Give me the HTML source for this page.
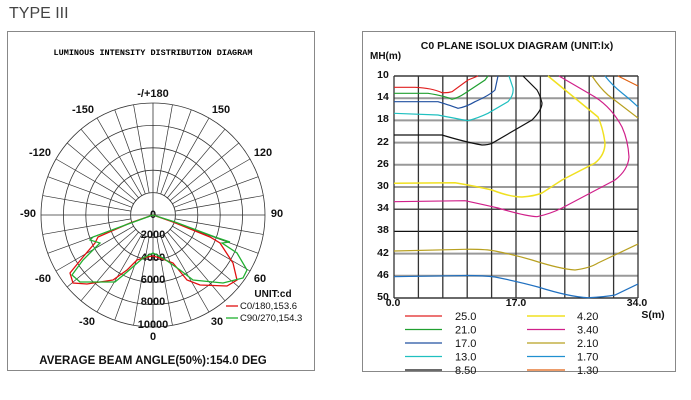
<!DOCTYPE html>
<html><head><meta charset="utf-8"><style>
html,body{margin:0;padding:0;background:#fff;}
svg{display:block;}
</style></head><body>
<svg width="691" height="400" viewBox="0 0 691 400" xmlns="http://www.w3.org/2000/svg">
<text x="9" y="18" font-family="Liberation Sans, sans-serif" font-size="16" fill="#444">TYPE III</text>
<rect x="7.5" y="31.5" width="307" height="339" fill="none" stroke="#888" stroke-width="1"/>
<rect x="362.5" y="31.5" width="313" height="340" fill="none" stroke="#888" stroke-width="1"/>

<text x="153" y="55" text-anchor="middle" font-family="Liberation Mono, monospace" font-weight="bold" font-size="8.5" fill="#000">LUMINOUS INTENSITY DISTRIBUTION DIAGRAM</text>

<g stroke="#333" stroke-width="0.8" fill="none">
<circle cx="153" cy="215" r="22.4"/>
<circle cx="153" cy="215" r="44.8"/>
<circle cx="153" cy="215" r="67.2"/>
<circle cx="153" cy="215" r="89.6"/>
<circle cx="153" cy="215" r="112"/>
<line x1="41" y1="215" x2="265" y2="215"/>
<line x1="153" y1="103" x2="153" y2="327"/>
</g>
<g stroke="#333" stroke-width="0.7" id="spokes">
<path d="M153,215 m22.06,3.89 l88.24,15.56 M153,215 m21.05,7.66 l84.19,30.64 M153,215 m19.40,11.20 l77.60,44.80 M153,215 m17.16,14.40 l68.64,57.59 M153,215 m14.40,17.16 l57.59,68.64 M153,215 m11.20,19.40 l44.80,77.60 M153,215 m7.66,21.05 l30.64,84.19 M153,215 m3.89,22.06 l15.56,88.24
M153,215 m-22.06,3.89 l-88.24,15.56 M153,215 m-21.05,7.66 l-84.19,30.64 M153,215 m-19.40,11.20 l-77.60,44.80 M153,215 m-17.16,14.40 l-68.64,57.59 M153,215 m-14.40,17.16 l-57.59,68.64 M153,215 m-11.20,19.40 l-44.80,77.60 M153,215 m-7.66,21.05 l-30.64,84.19 M153,215 m-3.89,22.06 l-15.56,88.24
M153,215 m22.06,-3.89 l88.24,-15.56 M153,215 m21.05,-7.66 l84.19,-30.64 M153,215 m19.40,-11.20 l77.60,-44.80 M153,215 m17.16,-14.40 l68.64,-57.59 M153,215 m14.40,-17.16 l57.59,-68.64 M153,215 m11.20,-19.40 l44.80,-77.60 M153,215 m7.66,-21.05 l30.64,-84.19 M153,215 m3.89,-22.06 l15.56,-88.24
M153,215 m-22.06,-3.89 l-88.24,-15.56 M153,215 m-21.05,-7.66 l-84.19,-30.64 M153,215 m-19.40,-11.20 l-77.60,-44.80 M153,215 m-17.16,-14.40 l-68.64,-57.59 M153,215 m-14.40,-17.16 l-57.59,-68.64 M153,215 m-11.20,-19.40 l-44.80,-77.60 M153,215 m-7.66,-21.05 l-30.64,-84.19 M153,215 m-3.89,-22.06 l-15.56,-88.24"/>
</g>
<g font-family="Liberation Sans, sans-serif" font-weight="bold" font-size="11" fill="#111" text-anchor="middle">
<text x="153" y="97">-/+180</text>
<text x="83" y="113">-150</text>
<text x="221" y="113">150</text>
<text x="40" y="156">-120</text>
<text x="263" y="156">120</text>
<text x="28" y="217">-90</text>
<text x="277" y="217">90</text>
<text x="43" y="282">-60</text>
<text x="260" y="282">60</text>
<text x="87" y="325">-30</text>
<text x="217" y="325">30</text>
<text x="153" y="340">0</text>
<text x="153" y="218">0</text>
<text x="153" y="238">2000</text>
<text x="153" y="261">4000</text>
<text x="153" y="283">6000</text>
<text x="153" y="305">8000</text>
<text x="153" y="328">10000</text>
<text x="273" y="297" font-size="10">UNIT:cd</text>
</g>
<path d="M153,215 L130,223 L98,237 L95,243 L83,257 L70,273 L73,283 L87,284 L113,280 L127,270 L137,260 L147,257 L153,256 L160,258 L173,263 L187,280 L200,285 L227,286 L237,280 L233,263 L220,243 L210,237 L173,222 Z" fill="none" stroke="#e01010" stroke-width="1.3"/>
<path d="M153,215 L120,227 L93,237 L90,240 L100,243 L83,260 L72,275 L80,282 L115,282 L127,272 L143,258 L153,253 L163,258 L180,270 L193,280 L223,283 L243,278 L247,270 L237,253 L222,243 L230,242 L215,237 L175,222 Z" fill="none" stroke="#20b030" stroke-width="1.3"/>
<line x1="226" y1="306" x2="238" y2="306" stroke="#e01010" stroke-width="1.3"/>
<line x1="226" y1="318" x2="238" y2="318" stroke="#20b030" stroke-width="1.3"/>
<g font-family="Liberation Sans, sans-serif" font-size="9.5" fill="#111">
<text x="240" y="309">C0/180,153.6</text>
<text x="240" y="321">C90/270,154.3</text>
</g>
<text x="153" y="364" text-anchor="middle" font-family="Liberation Sans, sans-serif" font-weight="bold" font-size="11.5" fill="#111">AVERAGE BEAM ANGLE(50%):154.0 DEG</text>

<!-- isolux -->
<text x="517" y="49" text-anchor="middle" font-family="Liberation Sans, sans-serif" font-weight="bold" font-size="10.5" fill="#111">C0 PLANE ISOLUX DIAGRAM (UNIT:lx)</text>
<text x="370" y="59" font-family="Liberation Sans, sans-serif" font-weight="bold" font-size="10" fill="#111">MH(m)</text>
<g stroke="#999" stroke-width="2">
<line x1="394" y1="98.2" x2="638" y2="98.2"/>
<line x1="394" y1="120.4" x2="638" y2="120.4"/>
<line x1="394" y1="142.6" x2="638" y2="142.6"/>
<line x1="394" y1="164.8" x2="638" y2="164.8"/>
<line x1="394" y1="187" x2="638" y2="187"/>
<line x1="394" y1="253.6" x2="638" y2="253.6"/>
<line x1="394" y1="275.8" x2="638" y2="275.8"/>
</g>
<g stroke="#111" stroke-width="1.2">
<line x1="394" y1="209.2" x2="638" y2="209.2"/>
<line x1="394" y1="231.4" x2="638" y2="231.4"/>
<line x1="394" y1="76" x2="638" y2="76"/>
<line x1="394" y1="298" x2="638" y2="298"/>
</g>
<g stroke="#333" stroke-width="1.3">
<line x1="394" y1="76" x2="394" y2="298"/><line x1="418.4" y1="76" x2="418.4" y2="298"/><line x1="442.8" y1="76" x2="442.8" y2="298"/><line x1="467.2" y1="76" x2="467.2" y2="298"/><line x1="491.6" y1="76" x2="491.6" y2="298"/><line x1="516" y1="76" x2="516" y2="298"/><line x1="540.4" y1="76" x2="540.4" y2="298"/><line x1="564.8" y1="76" x2="564.8" y2="298"/><line x1="589.2" y1="76" x2="589.2" y2="298"/><line x1="613.6" y1="76" x2="613.6" y2="298"/><line x1="638" y1="76" x2="638" y2="298"/>
</g>
<g font-family="Liberation Sans, sans-serif" font-weight="bold" font-size="10.5" fill="#111" text-anchor="middle">
<text x="383" y="78">10</text><text x="383" y="100">14</text><text x="383" y="122">18</text><text x="383" y="145">22</text><text x="383" y="167">26</text><text x="383" y="189">30</text><text x="383" y="211">34</text><text x="383" y="233">38</text><text x="383" y="256">42</text><text x="383" y="278">46</text><text x="383" y="300">50</text>
<text x="393" y="306">0.0</text><text x="516" y="306">17.0</text><text x="637" y="306">34.0</text>
<text x="653" y="318">S(m)</text>
</g>
<g fill="none" stroke-width="1.2">
<path stroke="#e02020" d="M394,87.3 L415,87.3 Q432,88 442,92.7 Q448,93 452,91.7 L468,80 L478,76"/>
<path stroke="#20a030" d="M394,93.3 L428,93.3 Q445,96 452,99.3 Q458,98 465,93.3 L485,80 L488,76"/>
<path stroke="#2050a0" d="M394,101.7 L438,101.7 Q452,106 458,108.3 Q466,107 475,101.7 Q490,95 495,90 L498,76"/>
<path stroke="#20c0c0" d="M394,113.3 L438,115 Q458,119 468,120.7 Q478,118 488,113.3 L508,101.7 Q514,95 513,88 L509,76"/>
<path stroke="#111" d="M394,135 L442,135 Q465,142 482,145 Q488,145 492,143.3 L532,120 Q542,110 542,103 Q540,95 537,90 L523,76"/>
<path stroke="#f0e020" stroke-width="1.5" d="M394,183.3 L455,182.7 Q475,186 492,190 Q510,197 522,197 Q535,196 542,193 L562,180 L595,163 Q605,155 605,143 Q603,128 598,117 L548,76"/>
<path stroke="#d0208a" d="M394,201.7 L465,200.7 Q485,205 498,208 Q525,216 537,216.7 Q550,214 562,208 L615,180 Q628,170 629,157 Q628,140 622,127 Q612,108 595,97 L559,76"/>
<path stroke="#b8a020" d="M394,251 L465,249.3 Q485,249 495,251 Q515,255 532,260 Q560,269 575,270 Q590,268 598,263 L638,244"/>
<path stroke="#b8a020" d="M592,76 Q600,88 608,95 L638,118"/>
<path stroke="#2070c0" d="M394,276.7 L455,275.7 Q480,275 495,277 Q520,282 538,287 Q570,297 588,297.7 Q605,297 615,295 L638,284"/>
<path stroke="#2090d0" d="M605,76 Q612,85 622,93 Q632,101 638,107"/>
<path stroke="#e06010" d="M618,76 L638,86"/>
</g>
<g stroke-width="1.2">
<line x1="405" y1="316" x2="442" y2="316" stroke="#e02020"/>
<line x1="405" y1="329.5" x2="442" y2="329.5" stroke="#20a030"/>
<line x1="405" y1="343" x2="442" y2="343" stroke="#2050a0"/>
<line x1="405" y1="356.5" x2="442" y2="356.5" stroke="#20c0c0"/>
<line x1="405" y1="370" x2="442" y2="370" stroke="#111"/>
<line x1="527" y1="316" x2="565" y2="316" stroke="#f0e020" stroke-width="1.5"/>
<line x1="527" y1="329.5" x2="565" y2="329.5" stroke="#d0208a"/>
<line x1="527" y1="343" x2="565" y2="343" stroke="#b8a020"/>
<line x1="527" y1="356.5" x2="565" y2="356.5" stroke="#2090d0"/>
<line x1="527" y1="370" x2="565" y2="370" stroke="#e06010"/>
</g>
<g font-family="Liberation Sans, sans-serif" font-size="11" fill="#111">
<text x="455" y="320">25.0</text><text x="455" y="333.5">21.0</text><text x="455" y="347">17.0</text><text x="455" y="360.5">13.0</text><text x="455" y="374">8.50</text>
<text x="577" y="320">4.20</text><text x="577" y="333.5">3.40</text><text x="577" y="347">2.10</text><text x="577" y="360.5">1.70</text><text x="577" y="374">1.30</text>
</g>
</svg>
</body></html>
